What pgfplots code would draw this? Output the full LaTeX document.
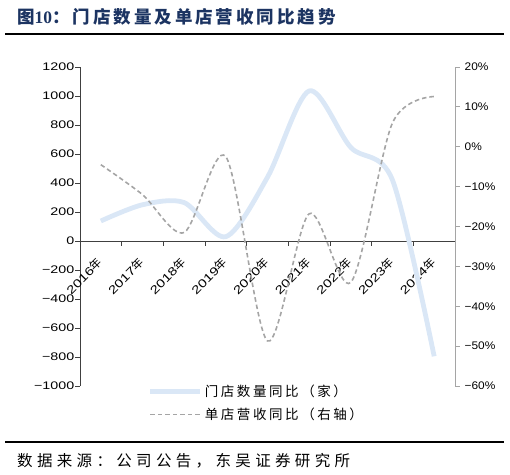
\documentclass[border=0pt]{standalone}
\usepackage{fontspec}
\usepackage{pgfplots}
\pgfplotsset{compat=1.18}
\setmainfont{Liberation Sans}
\newfontfamily\tickL[FakeStretch=1.3]{Liberation Sans}
\newfontfamily\tickR[FakeStretch=1.08]{Liberation Sans}
\newfontfamily\cjk{Noto Sans CJK SC}
\newfontfamily\cjkleg[LetterSpace=19]{Noto Sans CJK SC}
\newfontfamily\cjksrc[LetterSpace=28]{Noto Sans CJK SC}
\newfontfamily\cjktitle[LetterSpace=17]{Noto Sans CJK SC}
\newfontfamily\numtitle{Liberation Serif}
\definecolor{lineblue}{RGB}{218,231,246}
\definecolor{linegray}{RGB}{165,165,165}
\definecolor{titleblue}{RGB}{28,52,98}
\newcommand{\yr}[1]{{\tickL #1}{\cjk\fontsize{11.5bp}{13bp}\selectfont 年}}

\begin{document}
\begin{tikzpicture}
\path[use as bounding box] (0,0) rectangle (510bp,-475bp);

% title and rules
\node[anchor=west, inner sep=0pt, text=titleblue] at (17bp,-17bp)
  {\bfseries\cjktitle\fontsize{17.5bp}{19bp}\selectfont 图{\numtitle\bfseries 10}：门店数量及单店营收同比趋势};
\draw[line width=2bp] (5bp,-33.5bp) -- (504bp,-33.5bp);
\draw[line width=2bp] (5bp,-441.5bp) -- (504bp,-441.5bp);
\node[anchor=west, inner sep=0pt] at (17bp,-461bp)
  {\cjksrc\fontsize{15.5bp}{17bp}\selectfont 数据来源：公司公告，东吴证券研究所};

% left axis: stores
\begin{axis}[
  at={(80bp,-386bp)}, anchor=south west,
  scale only axis, width=375bp, height=319bp,
  xmin=-0.5, xmax=8.5, ymin=-1000, ymax=1200,
  axis x line=middle, axis y line=left,
  axis line style={-, line width=0.8bp, black!75},
  hide obscured x ticks=false, hide obscured y ticks=false,
  xtick={-0.5,0.5,...,8.5},
  x tick label as interval,
  xticklabels={\yr{2016},\yr{2017},\yr{2018},\yr{2019},\yr{2020},\yr{2021},\yr{2022},\yr{2023},\yr{2024}},
  xticklabel style={rotate=45, anchor=east, inner sep=1bp},
  xticklabel shift=14bp,
  ytick={-1000,-800,...,1200},
  yticklabels={−1000,−800,−600,−400,−200,0,200,400,600,800,1000,1200},
  yticklabel style={font=\tickL\fontsize{11bp}{13bp}\selectfont, inner sep=1bp},
  x tick label style={font=\tickL\fontsize{11.5bp}{13bp}\selectfont},
  tick align=outside,
  major tick length=4.5bp,
  tick style={black!75, line width=0.8bp},
  clip=false,
]
\addplot[color=lineblue, line width=4.8bp, smooth] coordinates {
(0,138) (1,250) (2,265) (3,30) (4,440) (5,1035) (6,645) (7,420) (8,-795)
};
\end{axis}

% right axis: revenue per store
\begin{axis}[
  at={(80bp,-386bp)}, anchor=south west,
  scale only axis, width=375bp, height=319bp,
  xmin=-0.5, xmax=8.5, ymin=-60, ymax=20,
  axis x line=none, axis y line*=right,
  axis line style={-, line width=1bp, linegray},
  ytick={-60,-50,...,20},
  yticklabels={−60\%,−50\%,−40\%,−30\%,−20\%,−10\%,0\%,10\%,20\%},
  yticklabel style={font=\tickR\fontsize{11bp}{13bp}\selectfont, inner sep=1bp, xshift=4bp},
  tick align=outside,
  major tick length=4.5bp,
  tick style={linegray, line width=1bp},
  clip=false,
  legend style={at={(0.181,0.01)}, anchor=north west, draw=none, fill=none,
    inner sep=0pt, row sep=6bp, font=\cjkleg\fontsize{13.5bp}{15bp}\selectfont},
  legend cell align=left,
  legend image code/.code={\draw[#1] (0bp,0bp) -- (50bp,0bp);},
]
\addlegendimage{color=lineblue, line width=4.8bp}
\addlegendentry{门店数量同比（家）}
\addplot[color=linegray, line width=1.6bp, dash pattern=on 4.5bp off 3bp, smooth] coordinates {
(0,-4.5) (1,-12) (2,-21.5) (3,-2.5) (4,-48.7) (5,-16.8) (6,-34) (7,6) (8,12.6)
};
\addlegendentry{单店营收同比（右轴）}
\end{axis}
\end{tikzpicture}
\end{document}
